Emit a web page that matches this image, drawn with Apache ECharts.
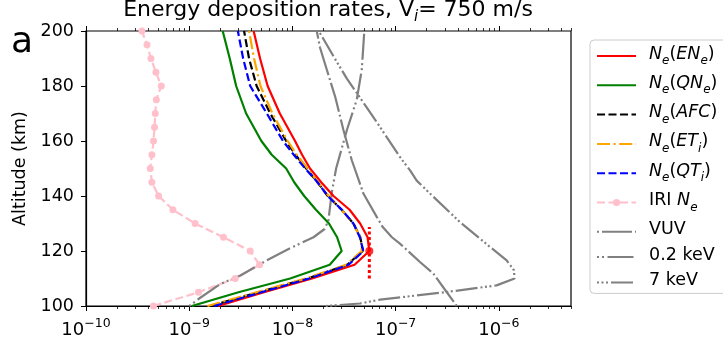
<!DOCTYPE html>
<html>
<head>
<meta charset="utf-8">
<script src="https://cdn.jsdelivr.net/npm/echarts@6/dist/echarts.min.js"></script>
<style>html,body{margin:0;padding:0;background:#fff}#main{width:723px;height:343px}</style>
</head>
<body>
<div id="main"></div>
<script>
// altitudes (km) and rates
var neAlt = [100, 105, 110, 115, 120, 125, 130, 135, 140, 145, 150, 155, 160, 170, 180, 190, 200];
var neEN  = [1.9e-9, 5.3e-9, 1.55e-8, 4.0e-8, 5.56e-8, 5.35e-8, 4.53e-8, 3.58e-8, 2.5e-8, 1.9e-8, 1.48e-8, 1.24e-8, 1.06e-8, 7.55e-9, 5.75e-9, 4.86e-9, 4.21e-9];
var neQN  = [1.06e-9, 3.0e-9, 9.5e-9, 2.3e-8, 3.0e-8, 2.71e-8, 2.26e-8, 1.69e-8, 1.3e-8, 1.04e-8, 8.7e-9, 6.3e-9, 5.0e-9, 3.56e-9, 2.85e-9, 2.47e-9, 2.11e-9];
var neAFC = [1.6e-9, 4.7e-9, 1.4e-8, 3.4e-8, 4.8e-8, 4.55e-8, 3.9e-8, 3.0e-8, 2.2e-8, 1.75e-8, 1.36e-8, 1.07e-8, 8.7e-9, 6.1e-9, 4.5e-9, 3.8e-9, 3.4e-9];
var neET  = [1.5e-9, 4.5e-9, 1.35e-8, 3.3e-8, 4.7e-8, 4.55e-8, 3.85e-8, 3.0e-8, 2.25e-8, 1.78e-8, 1.4e-8, 1.1e-8, 9.0e-9, 6.4e-9, 4.9e-9, 4.25e-9, 3.8e-9];
var neQT  = [1.75e-9, 5.0e-9, 1.45e-8, 3.5e-8, 4.87e-8, 4.5e-8, 3.9e-8, 3.01e-8, 2.2e-8, 1.75e-8, 1.33e-8, 1.03e-8, 8.1e-9, 5.65e-9, 3.9e-9, 3.33e-9, 2.96e-9];

var iriAlt = [100, 105, 110, 115, 120, 125, 130, 135, 140, 145, 150, 155, 160, 165, 170, 175, 180, 185, 190, 195, 200];
var iriNe  = [4.5e-10, 1.23e-9, 2.79e-9, 4.8e-9, 3.9e-9, 2.15e-9, 1.14e-9, 6.95e-10, 5.05e-10, 4.35e-10, 4.19e-10, 4.35e-10, 4.51e-10, 4.61e-10, 4.69e-10, 4.8e-10, 5.36e-10, 4.76e-10, 4.26e-10, 3.9e-10, 3.48e-10];

var vuvAlt = [100, 105, 111.8, 116, 122.7, 125, 128.7, 132.4, 140.9, 153, 164, 176, 186, 194, 200];
var vuvVal = [3.91e-7, 3.13e-7, 2.32e-7, 1.72e-7, 1.1e-7, 9.2e-8, 7.5e-8, 6.56e-8, 4.87e-8, 3.76e-8, 3.12e-8, 2.6e-8, 2.15e-8, 1.85e-8, 1.72e-8];

var kev02Alt = [100, 103, 108, 111, 116.6, 121, 125, 128, 131, 141, 150, 164, 175, 186, 200];
var kev02Val = [1.0e-9, 1.28e-9, 2.0e-9, 3.1e-9, 5.65e-9, 9.5e-9, 1.6e-8, 2.05e-8, 2.23e-8, 2.4e-8, 2.65e-8, 3.37e-8, 4.2e-8, 4.7e-8, 4.97e-8];

var kev7Alt = [100, 100.9, 102.3, 105.1, 107.5, 110, 113, 116.6, 121.5, 130.5, 140.9, 145.6, 149.3, 154.2, 168.7, 182.7, 190, 200];
var kev7Val = [2.1e-8, 4.5e-8, 7.06e-8, 3.13e-7, 9.5e-7, 1.42e-6, 1.4e-6, 1.19e-6, 8.2e-7, 4.2e-7, 2.15e-7, 1.6e-7, 1.38e-7, 1.1e-7, 6.08e-8, 3.37e-8, 2.57e-8, 1.8e-8];

var peakX = 5.56e-8, peakAlt = 120, peakBar = [110, 128.7];

var xDecades = [-10, -9, -8, -7, -6];
var xMax = 5e-6;

var FONT = 'DejaVu Sans';

function pts(vals, alts) {
    return vals.map(function (v, i) { return [Math.log10(v), alts[i]]; });
}

var minorTicks = [];
xDecades.forEach(function (d) {
    for (var k = 2; k <= 9; k++) {
        var v = d + Math.log10(k);
        if (v <= Math.log10(xMax) + 1e-9) minorTicks.push(v);
    }
});

function line(name, data, color, type, extra) {
    var s = {
        name: name, type: 'line', data: data, xAxisIndex: 0,
        symbol: 'none', showSymbol: false, smooth: false,
        lineStyle: { color: color, width: 2.2, type: type },
        itemStyle: { color: color },
        emphasis: { disabled: true }
    };
    for (var k in extra) s[k] = extra[k];
    return s;
}

var DASH = [8, 3.5];
var DASHDOT = [13, 3.5, 2.2, 3.5];

var labels = {
    'ENe': '{it|N}{sub|e}{n|(}{it|EN}{sub|e}{n|)}',
    'QNe': '{it|N}{sub|e}{n|(}{it|QN}{sub|e}{n|)}',
    'AFC': '{it|N}{sub|e}{n|(}{it|AFC}{n|)}',
    'ETi': '{it|N}{sub|e}{n|(}{it|ET}{sub|i}{n|)}',
    'QTi': '{it|N}{sub|e}{n|(}{it|QT}{sub|i}{n|)}',
    'IRI': '{n|IRI }{it|N}{sub|e}',
    'VUV': '{n|VUV}',
    '0.2 keV': '{n|0.2 keV}',
    '7 keV': '{n|7 keV}'
};

var legendNames = ['ENe', 'QNe', 'AFC', 'ETi', 'QTi', 'IRI', 'VUV', '0.2 keV', '7 keV'];

var chart = echarts.init(document.getElementById('main'));

var option = {
    animation: false,
    backgroundColor: '#fff',
    textStyle: { fontFamily: FONT },
    grid: { left: 86, right: 152, top: 31, bottom: 37, show: true, borderColor: '#000', borderWidth: 1.2, backgroundColor: 'transparent' },
    graphic: [
        {
            type: 'text', x: 328, y: -1,
            style: {
                text: '{t|Energy deposition rates, V}{ts|i}{t|= 750 m/s}',
                align: 'center', verticalAlign: 'top',
                rich: {
                    t: { fontFamily: FONT, fontSize: 22, lineHeight: 26, verticalAlign: 'top', fill: '#000' },
                    ts: { fontFamily: FONT, fontSize: 15, fontStyle: 'italic', lineHeight: 14, verticalAlign: 'bottom', fill: '#000' }
                }
            }
        },
        {
            type: 'text', x: 11, y: 43,
            style: { text: 'a', fontFamily: FONT, fontSize: 36, fill: '#000', verticalAlign: 'middle' }
        }
    ],
    legend: {
        orient: 'vertical', left: 590, top: 40,
        padding: [5, 12, 4, 6],
        itemWidth: 39, itemHeight: 9, itemGap: 7.3,
        borderColor: '#cccccc', borderWidth: 1, borderRadius: 4,
        backgroundColor: 'rgba(255,255,255,0.8)',
        itemStyle: { opacity: 0 },
        data: legendNames.map(function (n) {
            return n === 'IRI' ? { name: n, itemStyle: { opacity: 1 } } : { name: n };
        }),
        formatter: function (name) { return labels[name]; },
        textStyle: {
            padding: [0, 0, 0, 8],
            rich: {
                it: { fontFamily: FONT, fontSize: 17.5, fontStyle: 'italic', lineHeight: 22, verticalAlign: 'top', color: '#000' },
                n: { fontFamily: FONT, fontSize: 17.5, lineHeight: 22, verticalAlign: 'top', color: '#000' },
                sub: { fontFamily: FONT, fontSize: 12, fontStyle: 'italic', lineHeight: 10, verticalAlign: 'bottom', color: '#000' }
            }
        }
    },
    xAxis: [
        {
            type: 'value', position: 'bottom', min: -10, max: Math.log10(xMax),
            splitLine: { show: false },
            axisLine: { show: true, onZero: false, lineStyle: { color: '#000', width: 1.2 } },
            axisTick: { show: true, customValues: xDecades, length: 5, lineStyle: { color: '#000', width: 1 } },
            axisLabel: {
                customValues: xDecades, margin: 11, color: '#000',
                formatter: function (v) { return '{b|10}{s|\u2212' + Math.round(-v) + '}'; },
                rich: {
                    b: { fontFamily: FONT, fontSize: 18, lineHeight: 22, verticalAlign: 'bottom', color: '#000' },
                    s: { fontFamily: FONT, fontSize: 12.5, lineHeight: 12, verticalAlign: 'top', color: '#000' }
                }
            }
        },
        {
            type: 'value', position: 'bottom', min: -10, max: Math.log10(xMax),
            splitLine: { show: false },
            axisLine: { show: false, onZero: false },
            axisTick: { show: true, customValues: minorTicks, length: 3, lineStyle: { color: '#000', width: 0.8 } },
            axisLabel: { show: false }
        },
        {
            type: 'value', position: 'top', min: -10, max: Math.log10(xMax),
            splitLine: { show: false },
            axisLine: { show: false, onZero: false },
            axisTick: { show: true, customValues: xDecades, length: 5, lineStyle: { color: '#000', width: 1 } },
            axisLabel: { show: false }
        },
        {
            type: 'value', position: 'top', min: -10, max: Math.log10(xMax),
            splitLine: { show: false },
            axisLine: { show: false, onZero: false },
            axisTick: { show: true, customValues: minorTicks, length: 3, lineStyle: { color: '#000', width: 0.8 } },
            axisLabel: { show: false }
        }
    ],
    yAxis: {
        type: 'value', min: 100, max: 200, interval: 20,
        name: 'Altitude (km)', nameLocation: 'middle', nameGap: 51,
        nameTextStyle: { fontFamily: FONT, fontSize: 17.5, color: '#000' },
        splitLine: { show: false },
        axisLine: { show: true, lineStyle: { color: '#000', width: 1.2 } },
        axisTick: { show: true, length: 5, lineStyle: { color: '#000', width: 1 } },
        axisLabel: { fontFamily: FONT, fontSize: 17.5, color: '#000', margin: 12 }
    },
    series: [
        line('ENe', pts(neEN, neAlt), '#ff0000', 'solid', { z: 3 }),
        line('QNe', pts(neQN, neAlt), '#008000', 'solid', { z: 3 }),
        line('AFC', pts(neAFC, neAlt), '#000000', DASH, { z: 3 }),
        line('ETi', pts(neET, neAlt), '#ffa500', DASHDOT, { z: 3 }),
        line('QTi', pts(neQT, neAlt), '#0000ff', DASH, { z: 3 }),
        line('IRI', pts(iriNe, iriAlt), '#ffc0cb', DASH, { symbol: 'circle', showSymbol: true, symbolSize: 7, z: 2 }),
        line('VUV', pts(vuvVal, vuvAlt), '#808080', [2, 3, 30, 3], { z: 2 }),
        line('0.2 keV', pts(kev02Val, kev02Alt), '#808080', [2, 3, 2, 3.5, 26, 3.5], { z: 2 }),
        line('7 keV', pts(kev7Val, kev7Alt), '#808080', [2, 2.5, 2, 2.5, 2, 3, 22, 3], { z: 2 }),
        line('peakbar', [[Math.log10(peakX), peakBar[0]], [Math.log10(peakX), peakBar[1]]], '#ff0000', [3, 2.5], { z: 4, lineStyle: { color: '#ff0000', width: 3, type: [3, 2.5] } }),
        {
            name: 'peak', type: 'scatter', data: [[Math.log10(peakX), peakAlt]],
            symbol: 'circle', symbolSize: 8, itemStyle: { color: '#ff0000' }, z: 5
        }
    ]
};

chart.setOption(option);
window.onresize = chart.resize;
</script>
</body>
</html>
